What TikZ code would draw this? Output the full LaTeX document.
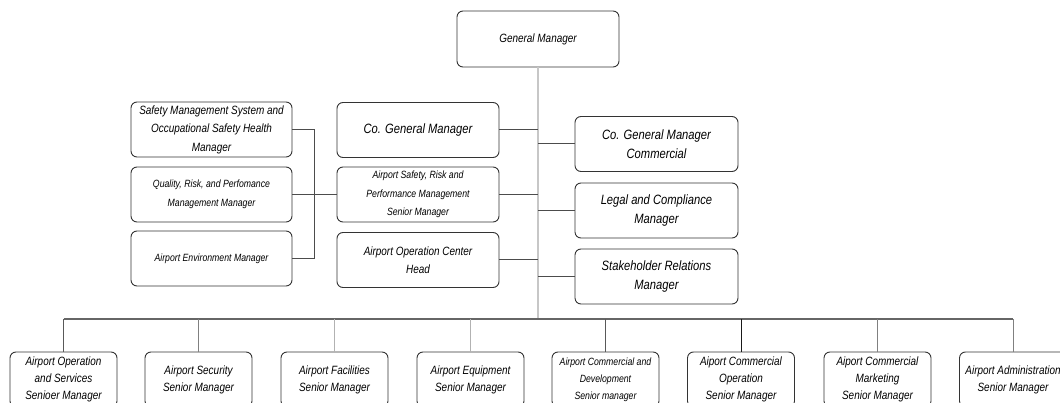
\documentclass[tikz,border=0pt]{standalone}
\usepackage{fontspec}
\setmainfont{Liberation Sans}[FakeStretch=0.83]
\begin{document}
\begin{tikzpicture}[x=1pt,y=-1pt,
  box/.style={draw=black!80, line width=0.9pt, rounded corners=6pt, align=center, inner sep=2pt},
  upper/.style={box, minimum width=162, minimum height=55},
  lower/.style={box, minimum width=107, minimum height=55},
  fA/.style={font=\itshape\fontsize{12}{18.5}\selectfont},
  fS/.style={font=\itshape\fontsize{10.5}{18.5}\selectfont},
  fL/.style={font=\itshape\fontsize{13.5}{18.5}\selectfont},
  fB/.style={font=\itshape\fontsize{12}{17}\selectfont},
  fBs/.style={font=\itshape\fontsize{10.5}{17}\selectfont},
  trunk/.style={draw=black!22, line width=2pt},
  conn/.style={draw=black!70, line width=1pt},
  bus/.style={draw=black!60, line width=1.3pt},
  dropd/.style={draw=black!65, line width=1pt},
  dropm/.style={draw=black!50, line width=1pt},
  dropl/.style={draw=black!30, line width=1pt},
  dropk/.style={draw=black!90, line width=1pt}
]
\useasboundingbox (0,0) rectangle (1060,403);
\clip (0,0) rectangle (1060,403);

% top
\node[box, fA, minimum width=162, minimum height=56] (gm) at (538,39) {General Manager};

% left column
\node[upper, fA, minimum width=161] (sms) at (211.5,129.5) {Safety Management System and\\Occupational Safety Health\\Manager};
\node[upper, fS, minimum width=161] (qrp) at (211.5,194.5) {Quality, Risk, and Perfomance\\Management Manager};
\node[upper, fS, minimum width=161] (env) at (211.5,258.5) {Airport Environment Manager};

% middle column
\node[upper, fL] (cogm) at (418,130) {Co. General Manager};
\node[upper, fS] (asrp) at (418,194.5) {Airport Safety, Risk and\\Performance Management\\Senior Manager};
\node[upper, fA] (aoc) at (418,260) {Airport Operation Center\\Head};

% right column
\node[upper, fL, minimum width=163] (cogmc) at (656.5,144) {Co. General Manager\\Commercial};
\node[upper, fL, minimum width=163] (legal) at (656.5,210.5) {Legal and Compliance\\Manager};
\node[upper, fL, minimum width=163] (stake) at (656.5,276.5) {Stakeholder Relations\\Manager};

% bottom row
\node[lower, fB] (b1) at (63.5,379.5) {Airport Operation\\and Services\\Senioer Manager};
\node[lower, fB] (b2) at (198.5,379.5) {Airport Security\\Senior Manager};
\node[lower, fB] (b3) at (334.5,379.5) {Airport Facilities\\Senior Manager};
\node[lower, fB] (b4) at (470.5,379.5) {Airport Equipment\\Senior Manager};
\node[lower, fBs] (b5) at (605.5,379.5) {Airport Commercial and\\Development\\Senior manager};
\node[lower, fB] (b6) at (741,379.5) {Aiport Commercial\\Operation\\Senior Manager};
\node[lower, fB] (b7) at (877.5,379.5) {Aiport Commercial\\Marketing\\Senior Manager};
\node[lower, fB] (b8) at (1013,379.5) {Airport Administration\\Senior Manager};

% connectors
\coordinate (busy) at (0,319);
\draw[trunk] (gm.south) -- (gm.south |- busy);
\draw[conn] (cogm.east) -- (cogm.east -| gm.south);
\draw[conn] (asrp.east) -- (asrp.east -| gm.south);
\draw[conn] (aoc.east) -- (aoc.east -| gm.south);
\draw[conn] (cogmc.west) -- (cogmc.west -| gm.south);
\draw[conn] (legal.west) -- (legal.west -| gm.south);
\draw[conn] (stake.west) -- (stake.west -| gm.south);
\draw[conn] (sms.east) -- ++(22,0) |- (env.east);
\draw[conn] (qrp.east) -- (asrp.west);

\draw[bus] (b1.north |- busy) -- (b8.north |- busy);
\draw[dropd] (b1.north) -- (b1.north |- busy);
\draw[dropm] (b2.north) -- (b2.north |- busy);
\draw[dropl] (b3.north) -- (b3.north |- busy);
\draw[dropl] (b4.north) -- (b4.north |- busy);
\draw[dropd] (b5.north) -- (b5.north |- busy);
\draw[dropk] (b6.north) -- (b6.north |- busy);
\draw[dropm] (b7.north) -- (b7.north |- busy);
\draw[dropm] (b8.north) -- (b8.north |- busy);
\end{tikzpicture}
\end{document}
